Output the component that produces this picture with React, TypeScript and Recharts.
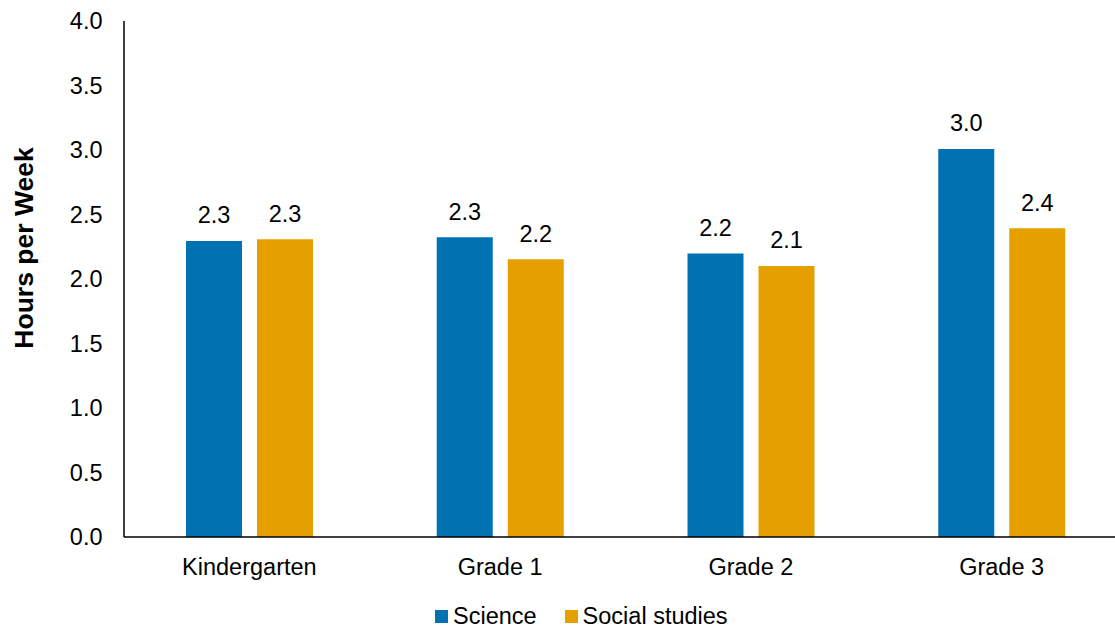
import { BarChart, Bar, XAxis, YAxis, LabelList } from 'recharts';

const grades = ['Kindergarten', 'Grade 1', 'Grade 2', 'Grade 3'];
const science = [2.295, 2.324, 2.197, 3.008];
const socialStudies = [2.308, 2.153, 2.101, 2.393];
const yTicks = [0, 0.5, 1, 1.5, 2, 2.5, 3, 3.5, 4];

const BLUE = '#0071B1';
const ORANGE = '#E5A000';
const FONT = '"Liberation Sans", Arial, sans-serif';
const FS = 23.5;

const data = grades.map((g, i) => ({ grade: g, science: science[i], social: socialStudies[i] }));

function LegendBox() {
  const items = [
    { label: 'Science', color: BLUE },
    { label: 'Social studies', color: ORANGE },
  ];
  return (
    <div
      style={{
        position: 'absolute',
        left: 435,
        top: 602,
        height: 28,
        display: 'flex',
        alignItems: 'center',
        fontFamily: FONT,
        fontSize: FS,
        color: '#000',
        whiteSpace: 'nowrap',
      }}
    >
      {items.map((it, i) => (
        <div key={it.label} style={{ display: 'flex', alignItems: 'center', marginLeft: i ? 28 : 0 }}>
          <div style={{ width: 13, height: 13, background: it.color, marginRight: 5 }} />
          <span>{it.label}</span>
        </div>
      ))}
    </div>
  );
}

function YLabel() {
  return (
    <text
      x={0}
      y={0}
      transform="translate(33, 248) rotate(-90)"
      textAnchor="middle"
      fontFamily={FONT}
      fontSize={26.5}
      fontWeight="bold"
      fill="#000"
    >
      Hours per Week
    </text>
  );
}

export default function App() {
  const tickStyle = { fontFamily: FONT, fontSize: FS, fill: '#000' };
  const labelStyle = { fontFamily: FONT, fontSize: FS, fill: '#000' };
  return (
    <div style={{ position: 'fixed', left: 0, top: 0, width: 1115, height: 628, overflow: 'hidden', background: '#fff' }}>
      <BarChart
        width={1128}
        height={628}
        data={data}
        margin={{ top: 21, right: 1, bottom: 41, left: 0 }}
        barGap={15}
      >
        <XAxis
          dataKey="grade"
          height={50}
          tickLine={false}
          tickSize={0}
          tickMargin={21}
          axisLine={{ stroke: '#000', strokeWidth: 1.5 }}
          tick={tickStyle}
        />
        <YAxis
          width={124}
          domain={[0, 4]}
          ticks={yTicks}
          tickFormatter={(v: number) => v.toFixed(1)}
          tickLine={false}
          tickSize={0}
          tickMargin={21.5}
          axisLine={{ stroke: '#000', strokeWidth: 1.5 }}
          tick={tickStyle}
          label={<YLabel />}
        />
        <Bar dataKey="science" name="Science" fill={BLUE} barSize={56} isAnimationActive={false}>
          <LabelList
            dataKey="science"
            position="top"
            offset={17.5}
            formatter={(v: number) => v.toFixed(1)}
            style={labelStyle}
          />
        </Bar>
        <Bar dataKey="social" name="Social studies" fill={ORANGE} barSize={56} isAnimationActive={false}>
          <LabelList
            dataKey="social"
            position="top"
            offset={17.5}
            formatter={(v: number) => v.toFixed(1)}
            style={labelStyle}
          />
        </Bar>
      </BarChart>
      <LegendBox />
    </div>
  );
}
